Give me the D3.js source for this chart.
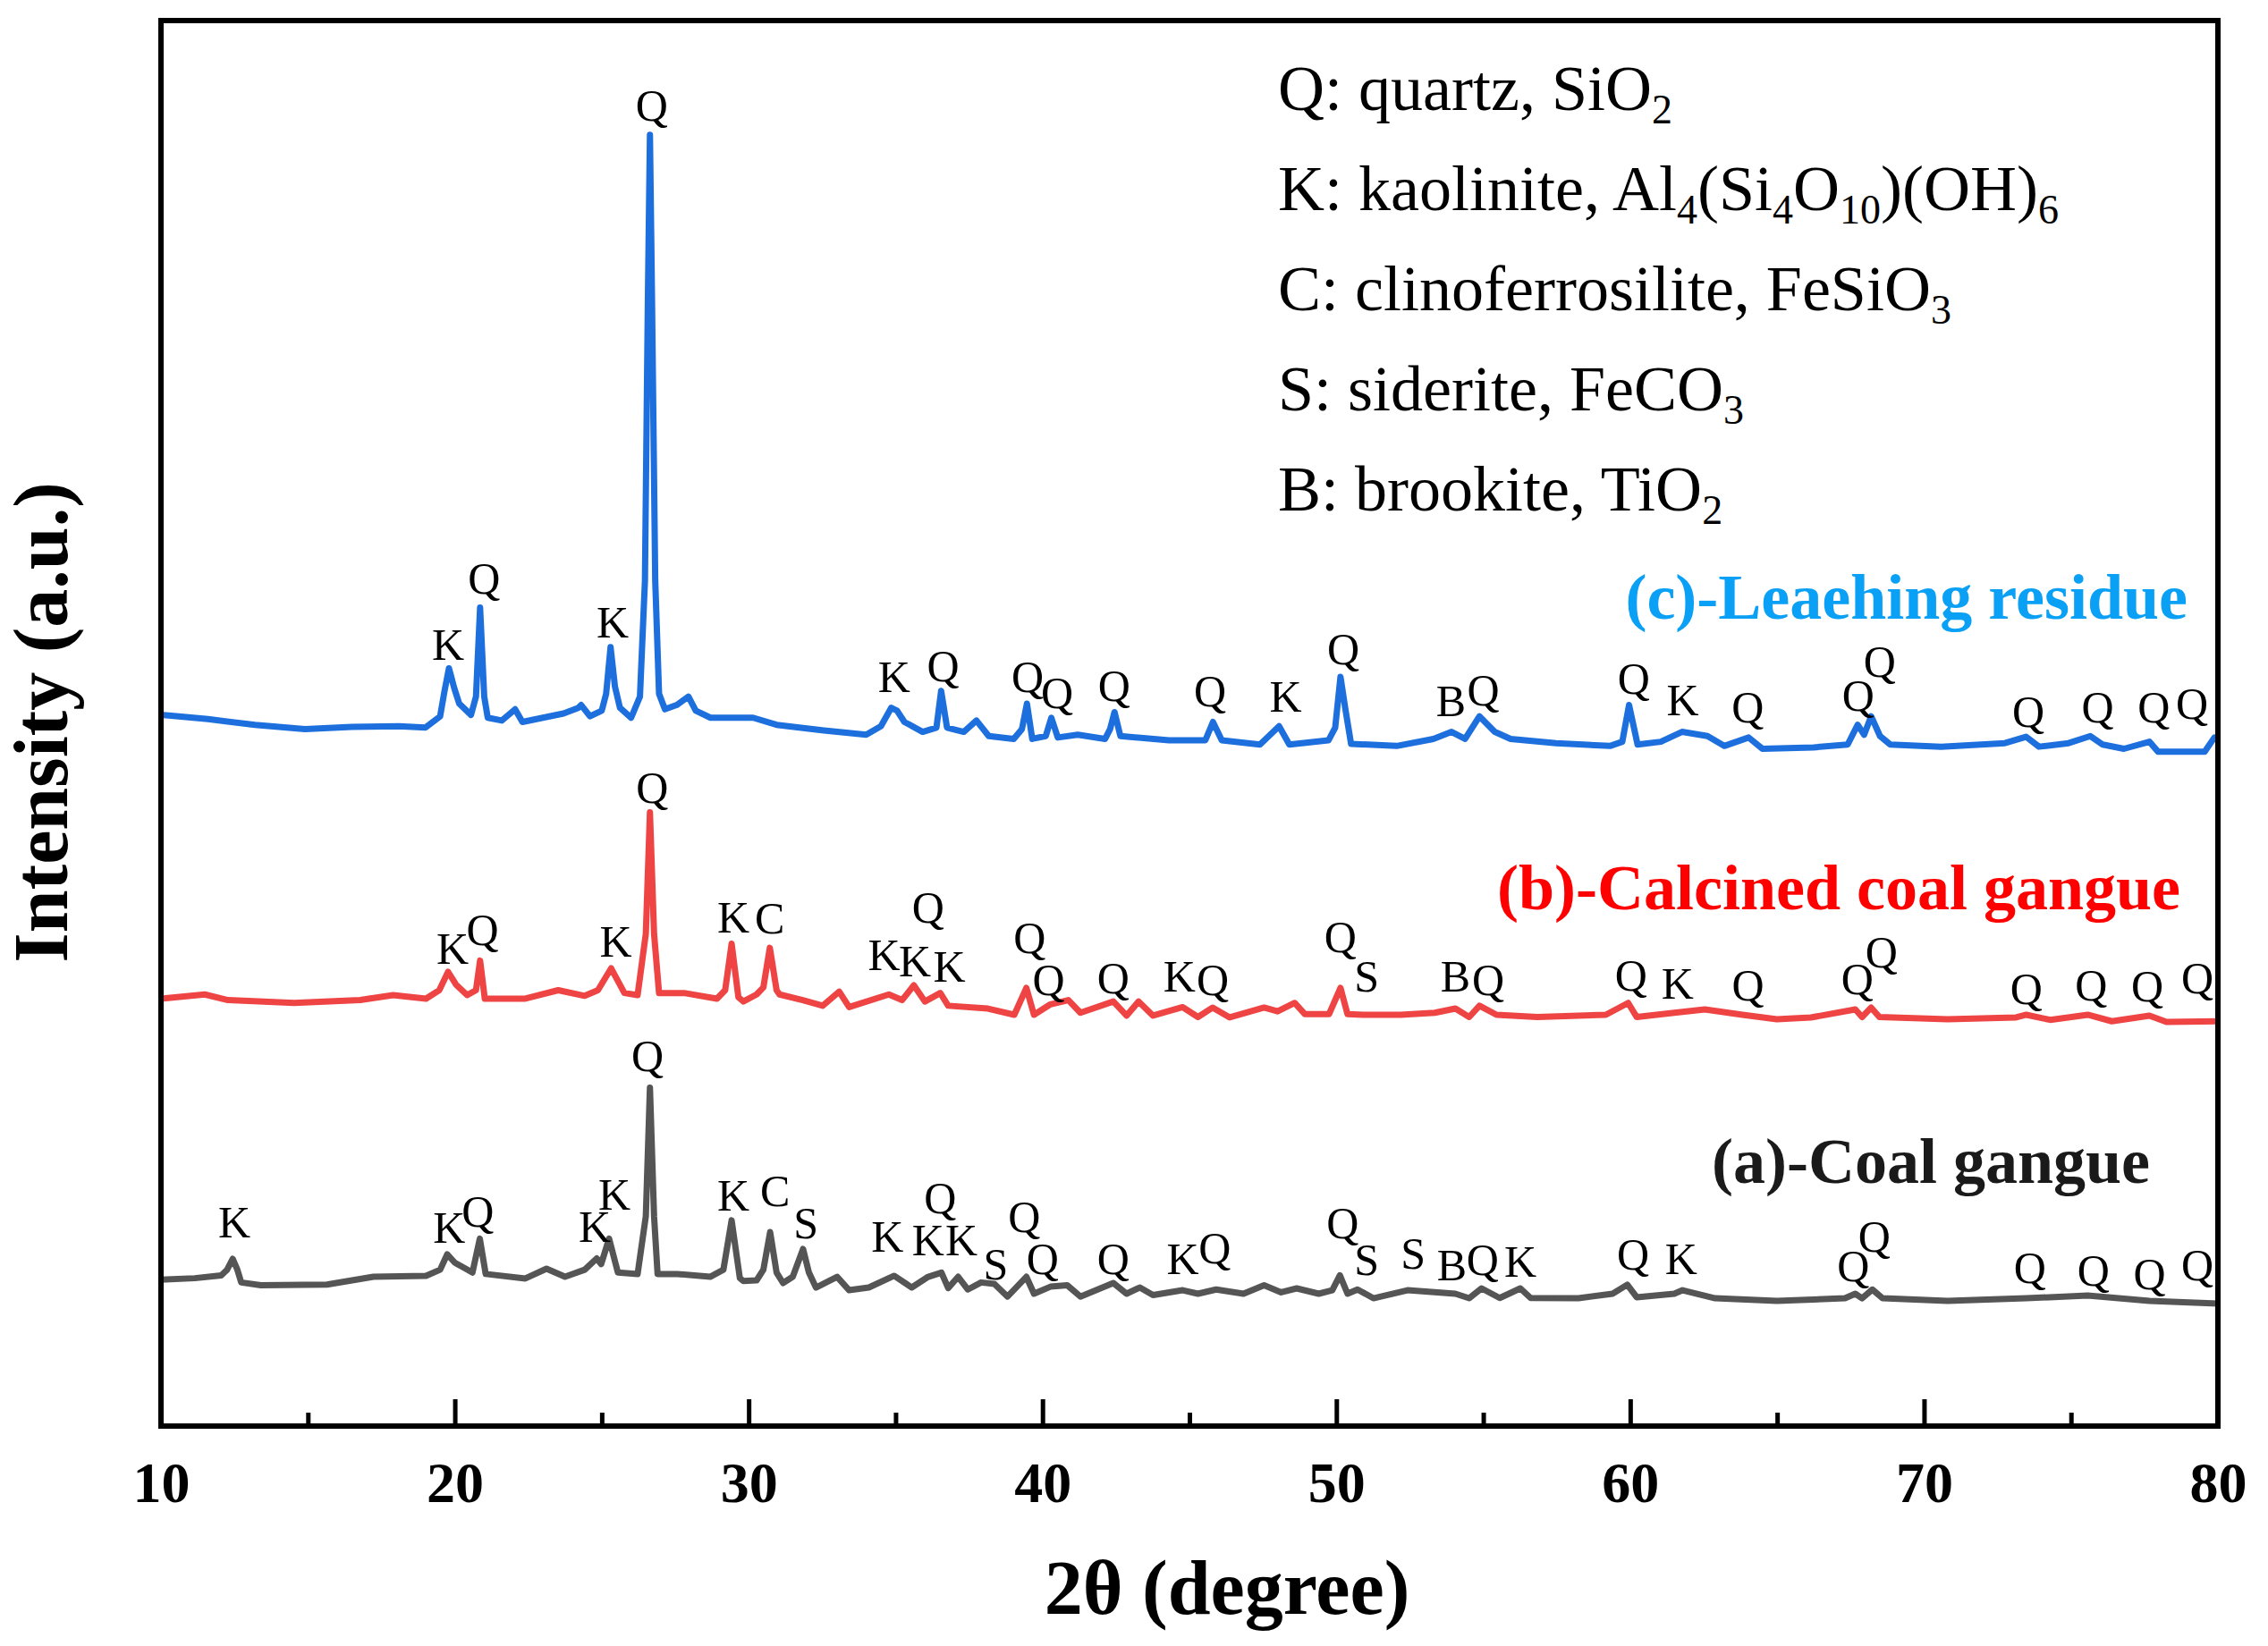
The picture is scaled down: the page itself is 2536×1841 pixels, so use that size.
<!DOCTYPE html>
<html>
<head>
<meta charset="utf-8">
<script src="https://cdn.jsdelivr.net/npm/d3@7"></script>
<style>
  body { margin: 0; background: #fff; }
  svg text { font-family: "Times New Roman", "Liberation Serif", serif; }
</style>
</head>
<body>
<svg id="xrd" width="2536" height="1841"></svg>
<script>
// XRD patterns, [2theta, intensity], each curve is stacked by its offset
const coalGangue = [[10.0,105],[11.15,106],[12.05,108],[12.25,112],[12.44,119.7],[12.6,112],[12.73,103],[13.4,101],[15.65,101.5],[17.23,107],[19.02,107.7],[19.5,112],[19.74,122.9],[20.0,117],[20.26,114],[20.6,110],[20.85,134],[21.05,109],[22.4,105.8],[23.12,112.7],[23.75,107],[24.42,112],[24.83,120],[24.98,116],[25.25,134],[25.55,110],[26.22,109],[26.5,150],[26.64,241],[26.78,150],[26.9,109],[27.57,109],[28.69,107],[29.14,112],[29.42,147],[29.7,106],[29.82,104],[30.27,104.5],[30.5,112],[30.73,138.7],[30.95,110],[31.17,102.6],[31.5,107],[31.85,126.7],[32.05,110],[32.29,99.4],[33.01,107],[33.42,97.5],[34.09,99.4],[34.95,107.7],[35.55,99.4],[36.11,107],[36.56,110],[36.79,99],[37.13,107],[37.46,98],[37.91,103],[38.36,102],[38.81,93],[39.45,107],[39.71,95],[40.27,100],[40.84,101],[41.29,93],[42.41,102.6],[42.86,95],[43.31,99.4],[43.76,94],[44.77,97.5],[45.29,95],[45.91,98],[46.84,95],[47.54,101],[48.12,96],[48.65,98.8],[49.4,95],[49.86,97.5],[50.12,108],[50.38,95],[50.72,98],[51.26,91.8],[52.42,97.5],[54.05,95],[54.52,91.8],[54.94,98.8],[55.56,92],[56.26,98.8],[56.61,92],[58.24,91.8],[59.4,95],[59.9,101.4],[60.22,92.5],[61.5,95],[61.78,97.5],[62.89,91.8],[64.99,90],[67.31,91.8],[67.66,95],[67.89,91.8],[68.24,98],[68.59,91.8],[70.8,90],[73.48,91.8],[75.57,93.7],[77.67,90],[80.0,88]];

const calcined = [[10.0,104],[11.49,107],[12.28,103],[14.53,101],[16.78,103],[17.9,106.5],[19.02,104],[19.47,110],[19.77,123],[20.04,114],[20.42,106.5],[20.72,110],[20.86,131],[21.02,104],[22.4,104],[23.52,110],[24.42,106],[24.87,110],[25.32,125.5],[25.77,108],[26.22,106.5],[26.5,150],[26.64,236],[26.78,150],[26.95,108],[27.8,108],[28.92,104],[29.2,110],[29.42,143],[29.65,105],[29.82,102],[30.27,107],[30.5,112],[30.72,140],[30.95,110],[31.05,107],[31.84,103],[32.52,99],[33.08,109],[33.42,98],[34.77,107],[35.22,103],[35.62,113.5],[36.0,102],[36.52,108],[36.79,99],[38.14,97],[39.04,92.6],[39.45,111.6],[39.71,92.6],[40.27,100],[40.88,103],[41.29,94],[42.41,102],[42.86,92],[43.27,102],[43.76,92],[44.77,98],[45.29,91],[45.79,97.7],[46.37,90.7],[47.54,97.7],[48.0,95],[48.58,101],[48.93,93],[49.75,93],[50.14,111.6],[50.38,93],[50.91,92.6],[52.19,92.6],[53.35,94],[54.05,97],[54.52,91],[54.87,99],[55.45,92.6],[56.84,91],[59.17,92.6],[59.93,101],[60.22,91],[61.5,94],[62.54,96.4],[63.82,92.6],[64.99,89.4],[66.15,90.7],[67.66,96.4],[67.89,91],[68.2,97.7],[68.48,91],[70.8,89.4],[73.13,90.7],[73.48,92.6],[74.29,89],[75.57,92.6],[76.39,88],[77.67,92],[78.25,87.5],[80.0,88]];

const leached = [[10.0,105],[10.6,104],[11.6,102],[13.2,98],[14.9,95],[16.5,96.5],[18.1,97],[19.0,96],[19.5,104],[19.65,122],[19.8,138],[19.98,124],[20.15,113],[20.55,105],[20.72,118],[20.86,181],[21.0,118],[21.12,103],[21.6,101],[22.05,109],[22.3,100],[23.7,106],[24.2,110],[24.3,112],[24.6,104],[25.0,108],[25.15,120],[25.3,153],[25.45,125],[25.62,110],[26.0,103],[26.3,118],[26.47,200],[26.57,400],[26.64,516],[26.71,400],[26.82,200],[26.95,120],[27.15,109],[27.55,112],[27.95,118],[28.2,108],[28.7,103],[30.15,103],[30.95,98],[32.56,94],[34.0,91],[34.5,97],[34.85,110],[35.05,108],[35.3,100],[35.92,93],[36.39,96],[36.55,122],[36.75,96],[37.32,93],[37.75,101],[38.17,90],[39.02,88],[39.3,95],[39.47,113],[39.65,88],[40.11,90],[40.3,103],[40.52,89],[41.2,91],[42.13,88],[42.3,95],[42.45,107],[42.65,90],[44.3,87],[45.54,87],[45.8,100],[46.1,87],[47.4,84],[48.05,97],[48.4,84],[49.73,87],[49.96,96],[50.14,132],[50.3,110],[50.5,84.5],[52.05,83],[53.3,88],[53.92,93],[54.38,88],[54.87,104],[55.39,93],[55.93,88],[57.48,85],[59.31,83],[59.73,86],[59.96,112],[60.25,84],[61.04,86],[61.76,93],[62.63,90],[63.2,83],[64.03,89],[64.5,81],[66.24,82],[67.4,84],[67.74,98],[67.96,91],[68.2,104],[68.5,90],[68.85,84],[70.58,82.5],[72.75,85],[73.47,89.5],[73.91,82.5],[74.92,85],[75.66,90],[76.08,84],[76.8,81],[77.67,86],[77.96,79],[79.55,79],[79.88,89],[80.0,87]];

// phase marks: [letter, 2theta, intensity of the label baseline]
const marksA = [['K',12.5,135],['K',19.81,131],['Q',20.78,142.5],['K',24.76,132],['K',25.43,154.5],['Q',26.56,253],['K',29.48,154],['C',30.9,157],['S',31.95,134],['K',34.72,125],['K',36.11,122],['K',37.24,122],['Q',36.52,152],['S',38.41,105],['Q',39.38,139],['Q',40.0,109],['Q',42.41,109],['K',44.77,109],['Q',45.86,116.5],['Q',50.21,134],['S',51.03,108],['S',52.61,113],['B',53.93,104.5],['Q',54.98,108],['K',56.26,107],['Q',60.1,112],['K',61.73,109],['Q',67.59,104],['Q',68.31,125],['Q',73.6,102.6],['Q',75.76,101],['Q',77.67,98],['Q',79.3,104.5]];
const marksB = [['K',19.92,129],['Q',20.94,142],['K',25.48,134],['Q',26.72,243],['K',29.48,151],['C',30.72,150],['K',34.61,124],['K',35.66,120],['K',36.83,116],['Q',36.11,158],['Q',39.56,136],['Q',40.21,106.5],['Q',42.41,108],['K',44.66,109],['Q',45.79,106.5],['Q',50.14,137],['S',51.03,109],['B',54.05,109],['Q',55.17,106.5],['Q',60.03,110],['K',61.61,104],['Q',64.01,103],['Q',67.73,107],['Q',68.55,126],['Q',73.48,100],['Q',75.69,103],['Q',77.6,102],['Q',79.3,108]];
const marksC = [['K',19.77,144],['Q',21.0,191],['K',25.37,160],['Q',26.7,526],['K',34.95,121],['Q',36.62,129],['Q',39.49,121],['Q',40.5,110],['Q',42.44,115],['Q',45.7,111],['K',48.27,107],['Q',50.24,141],['B',53.9,104],['Q',55.0,112],['Q',60.12,120],['K',61.79,105],['Q',64.0,100],['Q',67.76,108],['Q',68.49,132],['Q',73.55,96.5],['Q',75.91,100],['Q',77.82,100],['Q',79.12,102]];

const offsets = [0, 200, 400];
const seriesNames = ["(a)-Coal gangue", "(b)-Calcined coal gangue", "(c)-Leaehing residue"];
const majorTicks = [10, 20, 30, 40, 50, 60, 70, 80];
const minorTicks = [15, 25, 35, 45, 55, 65, 75];

// legend rows, [text, isSubscript]
const legendRows = [
  [["Q: quartz, SiO",0],["2",1]],
  [["K: kaolinite, Al",0],["4",1],["(Si",0],["4",1],["O",0],["10",1],[")(OH)",0],["6",1]],
  [["C: clinoferrosilite, FeSiO",0],["3",1]],
  [["S: siderite, FeCO",0],["3",1]],
  [["B: brookite, TiO",0],["2",1]]
];

const svg = d3.select("svg#xrd");
const plotLeft = 180, plotRight = 2480, plotTop = 23, plotBottom = 1595;

const x = d3.scaleLinear().domain([10, 80]).range([plotLeft, plotRight]);
const y = d3.scaleLinear().domain([0, 1000]).range([1597, 18]);

const lineColors = ["#555555", "#ef4444", "#1d6fdd"];
const nameColors = ["#1a1a1a", "#ff0000", "#0aa0f5"];

// curves
const series = [coalGangue, calcined, leached];
series.forEach(function(data, i) {
  const line = d3.line()
    .x(d => x(d[0]))
    .y(d => y(d[1] + offsets[i]));
  svg.append("path")
    .datum(data)
    .attr("d", line)
    .attr("fill", "none")
    .attr("stroke", lineColors[i])
    .attr("stroke-width", 7)
    .attr("stroke-linejoin", "round");
});

// phase letters
[marksA, marksB, marksC].forEach(function(marks, i) {
  svg.append("g").selectAll("text")
    .data(marks)
    .enter()
    .append("text")
    .attr("x", d => x(d[1]))
    .attr("y", d => y(d[2] + offsets[i]))
    .attr("text-anchor", "middle")
    .attr("font-size", 50)
    .attr("fill", "#000")
    .text(d => d[0]);
});

// sample names
const namePos = [[2404, 1323], [2438, 1017], [2446, 692]];
seriesNames.forEach(function(name, i) {
  svg.append("text")
    .attr("x", namePos[i][0])
    .attr("y", namePos[i][1])
    .attr("text-anchor", "end")
    .attr("font-size", 72)
    .attr("font-weight", "bold")
    .attr("fill", nameColors[i])
    .text(name);
});

// legend
legendRows.forEach(function(row, r) {
  const t = svg.append("text")
    .attr("x", 1429)
    .attr("y", 123 + r * 112)
    .attr("font-size", 72)
    .attr("fill", "#000");
  let down = false;
  row.forEach(function(seg) {
    const sp = t.append("tspan").text(seg[0]);
    if (seg[1]) {
      sp.attr("font-size", 46).attr("dy", down ? 0 : 15);
      down = true;
    } else {
      if (down) sp.attr("dy", -15);
      down = false;
    }
  });
});

// frame
svg.append("rect")
  .attr("x", plotLeft).attr("y", plotTop)
  .attr("width", plotRight - plotLeft).attr("height", plotBottom - plotTop)
  .attr("fill", "none")
  .attr("stroke", "#000")
  .attr("stroke-width", 6);

// x axis, ticks pointing inward
const gx = svg.append("g").attr("transform", "translate(0," + plotBottom + ")");
gx.call(d3.axisBottom(x).tickValues(majorTicks).tickSizeInner(-30).tickSizeOuter(0).tickPadding(40));
gx.select(".domain").remove();
gx.selectAll(".tick line").attr("stroke", "#000").attr("stroke-width", 5);
gx.selectAll(".tick text")
  .attr("font-size", 64)
  .attr("font-weight", "bold")
  .attr("fill", "#000")
  .style("font-family", "'Times New Roman', 'Liberation Serif', serif");

const gm = svg.append("g").attr("transform", "translate(0," + plotBottom + ")");
gm.call(d3.axisBottom(x).tickValues(minorTicks).tickSize(-15).tickFormat(""));
gm.select(".domain").remove();
gm.selectAll(".tick line").attr("stroke", "#000").attr("stroke-width", 5);

// axis titles
svg.append("text")
  .attr("x", 1372)
  .attr("y", 1805)
  .attr("text-anchor", "middle")
  .attr("font-size", 86)
  .attr("font-weight", "bold")
  .text("2θ (degree)");

svg.append("text")
  .attr("transform", "translate(75,808) rotate(-90)")
  .attr("text-anchor", "middle")
  .attr("font-size", 86)
  .attr("font-weight", "bold")
  .text("Intensity (a.u.)");
</script>
</body>
</html>
